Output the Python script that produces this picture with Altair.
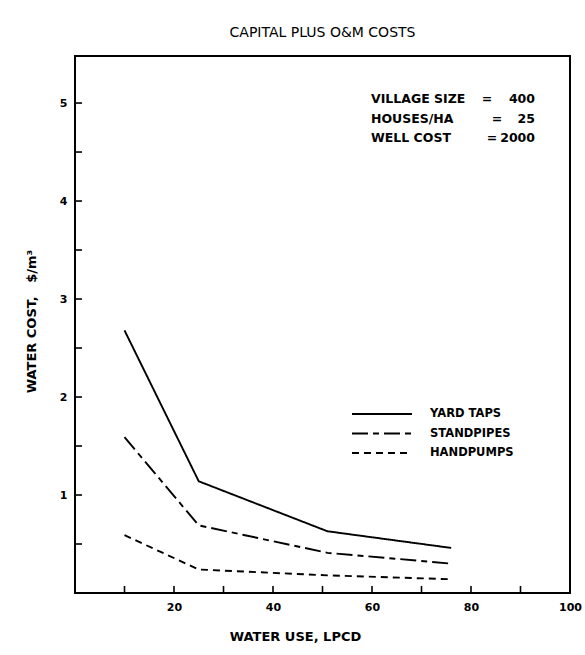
import altair as alt
import pandas as pd

# Water use (litres per capita per day) at which costs were computed
water_use = [10, 25, 51, 76]

# Capital plus O&M water cost, $/m3
yard_taps = [2.68, 1.14, 0.63, 0.46]
standpipes = [1.59, 0.69, 0.41, 0.30]
handpumps = [0.59, 0.24, 0.18, 0.14]

series_names = ["YARD TAPS", "STANDPIPES", "HANDPUMPS"]
series_dash = [[1, 0], [16, 5, 6, 5], [7, 5]]

# Axis labels and inward tick marks
x_labels = [20, 40, 60, 80, 100]
x_ticks = [10, 20, 30, 40, 50, 60, 70, 80, 90]
y_labels = [1, 2, 3, 4, 5]
y_ticks = [0.5, 1.0, 1.5, 2.0, 2.5, 3.0, 3.5, 4.0, 4.5, 5.0]

# Parameters printed in the upper right
param_names = ["VILLAGE SIZE", "HOUSES/HA", "WELL COST"]
param_values = ["400", "25", "2000"]

FONT = "DejaVu Sans"
W, H = 495, 537

rows = []
for name, vals in zip(series_names, [yard_taps, standpipes, handpumps]):
    for x, y in zip(water_use, vals):
        rows.append({"use": x, "cost": y, "series": name})
df = pd.DataFrame(rows)

xscale = alt.Scale(domain=[0, 100], nice=False, zero=False)
yscale = alt.Scale(domain=[0, 5.48], nice=False, zero=False)

x_axis = alt.Axis(
    values=x_labels, ticks=False, domain=False, grid=False,
    labelFont=FONT, labelFontWeight="bold", labelFontSize=11,
    labelColor="black", labelPadding=8, labelFlush=False,
    labelOverlap=False,
    title="WATER USE, LPCD", titleFont=FONT, titleFontWeight="bold",
    titleFontSize=13, titleColor="black", titleX=220, titleY=37,
)
y_axis = alt.Axis(
    values=y_labels, ticks=False, domain=False, grid=False,
    labelFont=FONT, labelFontWeight="bold", labelFontSize=11,
    labelColor="black", labelPadding=8, labelFlush=False,
    labelOverlap=False,
    title="WATER COST,\u00a0\u00a0\u00a0$/m³", titleFont=FONT,
    titleFontWeight="bold", titleFontSize=13, titleColor="black",
    titleX=-37, titleY=265,
)

lines = alt.Chart(df).mark_line(color="black", strokeWidth=1.9).encode(
    x=alt.X("use:Q", scale=xscale, axis=x_axis),
    y=alt.Y("cost:Q", scale=yscale, axis=y_axis),
    strokeDash=alt.StrokeDash(
        "series:N",
        scale=alt.Scale(domain=series_names, range=series_dash),
        legend=None,
    ),
    detail="series:N",
)

xtick_df = pd.DataFrame({"use": x_ticks})
xtick_layer = alt.Chart(xtick_df).mark_rule(color="black", strokeWidth=1.6).encode(
    x=alt.X("use:Q", scale=xscale, axis=x_axis),
    y=alt.value(H),
    y2=alt.value(H - 7),
)

ytick_df = pd.DataFrame({"cost": y_ticks})
ytick_layer = alt.Chart(ytick_df).mark_rule(color="black", strokeWidth=1.6).encode(
    y=alt.Y("cost:Q", scale=yscale, axis=y_axis),
    x=alt.value(0),
    x2=alt.value(7),
)

layers = [lines, xtick_layer, ytick_layer]

# Parameter block
eq_x = [412, 422, 417]
for i, (name, val) in enumerate(zip(param_names, param_values)):
    yy = 43 + i * 19.5
    one = pd.DataFrame({"k": [name], "v": [val]})
    layers.append(alt.Chart(one).mark_text(
        align="left", baseline="middle", font=FONT, fontWeight="bold",
        fontSize=12.5, color="black").encode(
        x=alt.value(296), y=alt.value(yy), text="k:N"))
    layers.append(alt.Chart(one).mark_text(
        align="center", baseline="middle", font=FONT, fontWeight="bold",
        fontSize=12.5, color="black").encode(
        x=alt.value(eq_x[i]), y=alt.value(yy), text=alt.value("=")))
    layers.append(alt.Chart(one).mark_text(
        align="right", baseline="middle", font=FONT, fontWeight="bold",
        fontSize=12.5, color="black").encode(
        x=alt.value(460), y=alt.value(yy), text="v:N"))

# Line-style key
for i, (name, dash) in enumerate(zip(series_names, series_dash)):
    yy = 358 + i * 19.5
    one = pd.DataFrame({"s": [name]})
    layers.append(alt.Chart(one).mark_rule(
        color="black", strokeWidth=1.9, strokeDash=dash).encode(
        x=alt.value(277), x2=alt.value(337), y=alt.value(yy)))
    layers.append(alt.Chart(one).mark_text(
        align="left", baseline="middle", font=FONT, fontWeight="bold",
        fontSize=11.5, color="black").encode(
        x=alt.value(355), y=alt.value(yy), text="s:N"))

chart = alt.layer(*layers).properties(
    width=W,
    height=H,
    title=alt.TitleParams(
        "CAPITAL PLUS O&M COSTS", font=FONT, fontSize=14,
        fontWeight="normal", color="black", anchor="middle", offset=16,
    ),
    padding={"left": 75, "top": 56, "right": 15, "bottom": 62},
    autosize="none",
).configure(
    background="white"
).configure_view(
    stroke="black", strokeWidth=2
)

chart.save("out.html", embed_options={"renderer": "svg", "actions": False})
